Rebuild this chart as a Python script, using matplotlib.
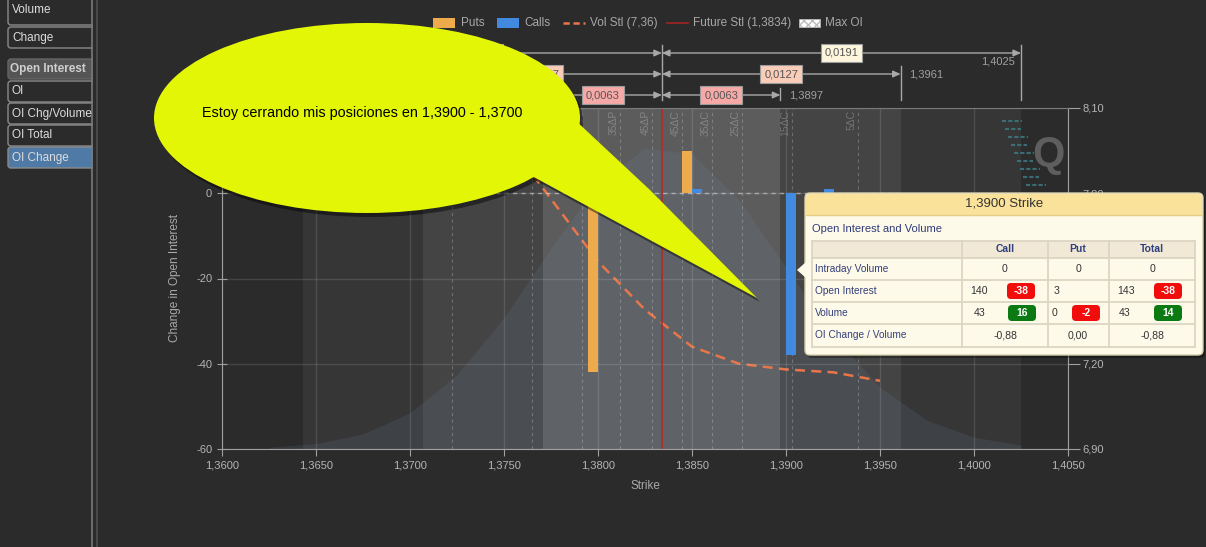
import matplotlib
matplotlib.use("Agg")
import matplotlib.pyplot as plt
import numpy as np
from matplotlib.patches import Rectangle, Ellipse, Polygon, FancyBboxPatch

plt.rcParams["font.family"] = ["Liberation Sans", "DejaVu Sans"]

BG = "#2b2b2b"

# ---- data ----
strike_ticks = [1.3600, 1.3650, 1.3700, 1.3750, 1.3800, 1.3850, 1.3900, 1.3950, 1.4000, 1.4050]
left_ticks = [-60, -40, -20, 0, 20]
right_ticks = [6.90, 7.20, 7.50, 7.80, 8.10]

put_strikes = [1.3800, 1.3850]
put_chg = [-42, 10]
call_strikes = [1.3850, 1.3900, 1.3920]
call_chg = [1, -38, 1]

vol_strikes = [1.3750, 1.3775, 1.3800, 1.3825, 1.3850, 1.3875, 1.3900, 1.3925, 1.3950]
vol_settle = [8.00, 7.78, 7.56, 7.39, 7.26, 7.20, 7.18, 7.17, 7.14]

dist_strikes = [1.3625, 1.3650, 1.3675, 1.3700, 1.3725, 1.3750, 1.3775, 1.3800, 1.3825,
                1.3850, 1.3875, 1.3900, 1.3925, 1.3950, 1.3975, 1.4000, 1.4025]
dist_vals = [6.906, 6.919, 6.953, 7.027, 7.161, 7.362, 7.607, 7.832, 7.959,
             7.938, 7.776, 7.538, 7.300, 7.117, 7.001, 6.941, 6.914]

future_stl = 1.3834
vol_stl = 7.36
sigma_moves = [0.0063, 0.0127, 0.0191]
range_lows = [1.3771, 1.3707, 1.3643]
range_highs = [1.3897, 1.3961, 1.4025]

delta_labels = ["5ΔP", "15ΔP", "25ΔP", "35ΔP", "45ΔP", "45ΔC", "35ΔC", "25ΔC", "15ΔC", "5ΔC"]
delta_strikes = [1.37223, 1.37649, 1.37915, 1.38117, 1.38287, 1.38447, 1.38606, 1.38766, 1.39032, 1.39383]


def fmt(v, d=4):
    return f"{v:.{d}f}".replace(".", ",")


fig = plt.figure(figsize=(12.06, 5.47), dpi=100, facecolor=BG)
ax = fig.add_axes([222 / 1206, 98 / 547, 846 / 1206, 341 / 547])
ax2 = ax.twinx()
ax.set_zorder(2)
ax2.set_zorder(1)
ax.patch.set_visible(False)
ax2.patch.set_facecolor(BG)

# sigma bands + distribution + vol settle on the right axis
band_cols = ["#5c5c5c", "#444444", "#363636"]
for lo, hi, c in list(zip(range_lows, range_highs, band_cols))[::-1]:
    ax2.axvspan(lo, hi, color=c, lw=0, zorder=0)
ax2.fill_between(dist_strikes, 6.9, dist_vals, color="#7a9cc6", alpha=0.12, lw=0, zorder=1)
ax2.plot(vol_strikes, vol_settle, color="#e8764a", lw=1.8, ls=(0, (4, 2.5)), zorder=3)
ax2.set_ylim(6.9, 8.1)
ax2.set_yticks(right_ticks)
ax2.set_yticklabels([fmt(v, 2) for v in right_ticks])
ax2.tick_params(axis="y", colors="#a0a0a0", labelcolor="#b5b5b5", labelsize=8,
                length=8.6, pad=2)
for s in ["left", "top", "bottom"]:
    ax2.spines[s].set_visible(False)
ax2.spines["right"].set_color("#a0a0a0")

# left axis: OI change bars
ax.set_xlim(1.36, 1.405)
ax.set_ylim(-60, 20)
ax.grid(True, color="white", alpha=0.12, lw=1)
for s, lab in zip(delta_strikes, delta_labels):
    ax.axvline(s, color="white", alpha=0.22, lw=0.8, ls=(0, (3, 3)), zorder=1)
    ax.text(s - 0.00008, 0.994, lab, transform=ax.get_xaxis_transform(), rotation=90,
            ha="right", va="top", fontsize=7.5, color="white", alpha=0.25)
ax.hlines(0, 1.3746, 1.3961, colors="#d0d0d0", lw=1, linestyles=(0, (3, 3)), alpha=0.6, zorder=1)
ax.axvline(future_stl, color="#b52a2a", lw=1.2, zorder=2)
ax.bar(np.array(put_strikes) - 0.000266, put_chg, width=0.00053, color="#eeab4c", zorder=3)
ax.bar(np.array(call_strikes) + 0.000266, call_chg, width=0.00053, color="#418ae0", zorder=3)

ax.set_xticks(strike_ticks)
ax.set_xticklabels([fmt(v) for v in strike_ticks])
ax.set_yticks(left_ticks)
ax.set_yticklabels([str(v) for v in left_ticks])
ax.tick_params(axis="x", colors="#a0a0a0", labelcolor="#b5b5b5", labelsize=8, length=5, pad=3)
ax.tick_params(axis="y", colors="#a0a0a0", labelcolor="#b5b5b5", labelsize=8,
               direction="inout", length=7.2, pad=3.5)
ax.spines["left"].set_color("#a0a0a0")
ax.spines["bottom"].set_color("#a0a0a0")
ax.spines["top"].set_color("#7a7a7a")
ax.spines["right"].set_visible(False)
ax.set_ylabel("Change in Open Interest", color="#a9a9a9", fontsize=8.5)
ax.yaxis.set_label_coords(-0.0485, 0.5)
ax.set_xlabel("Strike", color="#a9a9a9", fontsize=8.5)
ax.xaxis.set_label_coords(0.5, -0.091)

# expected move ranges above the plot
trans = ax.get_xaxis_transform()
row_y = [1.0381, 1.0997, 1.1613]
tick_top = [1.0587, 1.1232, 1.1848]
tick_bot = 1.0235
box_cols = ["#f6a9a6", "#f9cdb8", "#fdf6dd"]
line_c = "#a8a8a8"
ax.plot([future_stl, future_stl], [tick_bot, 1.1848], transform=trans, color=line_c,
        lw=1, clip_on=False)
for i, (lo, hi, mv) in enumerate(zip(range_lows, range_highs, sigma_moves)):
    y = row_y[i]
    for a, b in [(lo, future_stl), (future_stl, hi)]:
        ax.annotate("", xy=(b, y), xytext=(a, y), xycoords=trans, textcoords=trans,
                    arrowprops=dict(arrowstyle="<|-|>,head_length=0.45,head_width=0.2",
                                    color=line_c, lw=1, shrinkA=0, shrinkB=0,
                                    mutation_scale=10),
                    annotation_clip=False)
        ax.text((a + b) / 2, y, fmt(mv), transform=trans, ha="center", va="center",
                fontsize=8, color="#555555", clip_on=False, zorder=5,
                bbox=dict(boxstyle="square,pad=0.35", fc=box_cols[i], ec="#9c9c9c", lw=0.8))
    for xe in (lo, hi):
        ax.plot([xe, xe], [tick_bot, tick_top[i]], transform=trans, color=line_c, lw=1,
                clip_on=False)
    if i < 2:
        ax.text(hi + 0.00045, y, fmt(hi), transform=trans, ha="left", va="center",
                fontsize=8, color="#a0a0a0", clip_on=False)
    else:
        ax.text(hi - 0.0003, 1.135, fmt(hi), transform=trans, ha="right", va="center",
                fontsize=8, color="#a0a0a0", clip_on=False)

# ---- overlay: sidebar, legend, bubble, tooltip ----
ov = fig.add_axes([0, 0, 1, 1], zorder=10)
ov.set_xlim(0, 1206)
ov.set_ylim(547, 0)
ov.axis("off")
ov.patch.set_visible(False)

buttons = [("Volume", -5, 25, BG, False), ("Change", 27, 48, BG, False),
           ("Open Interest", 59, 79, "#555555", True), ("OI", 81, 102, BG, False),
           ("OI Chg/Volume", 103, 124, BG, False), ("OI Total", 125, 146, BG, False),
           ("OI Change", 147, 168, "#4f7aa6", False)]
for lab, y0, y1, fc, bold in buttons:
    ov.add_patch(FancyBboxPatch((8, y0), 90, y1 - y0, boxstyle="round,pad=0,rounding_size=3",
                                fc=fc, ec="#8a8a8a" if not bold else "#666666", lw=1))
    if bold:
        ov.text(48, (y0 + y1) / 2, lab, ha="center", va="center", fontsize=8.5,
                color="#cfcfcf", fontweight="bold")
    else:
        ov.text(12, (y0 + y1) / 2, lab, ha="left", va="center", fontsize=8.5, color="#dcdcdc")
ov.add_patch(Rectangle((92.5, 0), 10, 547, fc=BG, ec="none"))
ov.plot([92, 92], [0, 547], color="#7a7a7a", lw=1.2)
ov.plot([97, 97], [0, 547], color="#505050", lw=1.2)

# legend
ly = 23
leg_c = "#a8a8a8"
ov.add_patch(Rectangle((433, 18), 22, 10, fc="#eeab4c", ec="none"))
ov.text(461, ly, "Puts", va="center", fontsize=8.5, color=leg_c)
ov.add_patch(Rectangle((497, 18), 22, 10, fc="#418ae0", ec="none"))
ov.text(524, ly, "Calls", va="center", fontsize=8.5, color=leg_c)
ov.plot([563, 585], [ly, ly], color="#e8764a", lw=1.8, ls=(0, (2.5, 1.5)))
ov.text(590, ly, f"Vol Stl ({fmt(vol_stl, 2)})", va="center", fontsize=8.5, color=leg_c)
ov.plot([667, 688], [ly, ly], color="#a52222", lw=1.2)
ov.text(693, ly, f"Future Stl ({fmt(future_stl)})", va="center", fontsize=8.5, color=leg_c)
ov.add_patch(Rectangle((799, 19), 21, 8, fc="white", ec="#bbbbbb", hatch="xxxx", lw=0.5))
ov.text(825, ly, "Max OI", va="center", fontsize=8.5, color=leg_c)

# watermark
for k in range(9):
    yy = 185 - k * 8
    ov.plot([1040 - k * 3 - 14, 1040 - k * 3 + 6 - (k % 2) * 4], [yy, yy], color="#3b7f86",
            lw=1.5, alpha=0.8, ls=(0, (2, 1)))
ov.text(1048, 155, "Q", ha="center", va="center", fontsize=30, fontweight="bold",
        color="#5e5e5e")

# speech bubble
yel = "#e3f606"
ov.add_patch(Ellipse((370, 122), 426, 190, fc="black", alpha=0.45, ec="none"))
ov.add_patch(Polygon([(533, 179), (760, 302), (653, 194), (578, 124)], closed=True,
                     fc="black", alpha=0.45, ec="none"))
ov.add_patch(Ellipse((367, 118), 426, 190, fc=yel, ec="none"))
ov.add_patch(Polygon([(530, 175), (757, 298), (650, 190), (575, 120)], closed=True,
                     fc=yel, ec="none"))
ov.text(362, 113, "Estoy cerrando mis posiciones en 1,3900 - 1,3700", ha="center",
        va="center", fontsize=10.4, color="black")

# tooltip
ov.add_patch(FancyBboxPatch((807, 196), 398, 162, boxstyle="round,pad=0,rounding_size=5",
                            fc="black", alpha=0.35, ec="none"))
ov.add_patch(FancyBboxPatch((805, 193), 398, 162, boxstyle="round,pad=0,rounding_size=5",
                            fc="#fefaea", ec="#d8cfa8", lw=1))
ov.add_patch(FancyBboxPatch((806, 194), 396, 21, boxstyle="round,pad=0,rounding_size=4",
                            fc="#fbe29a", ec="none"))
ov.add_patch(Rectangle((806, 205), 396, 10, fc="#fbe29a", ec="none"))
ov.plot([806, 1202], [215, 215], color="#e3cf8a", lw=1)
ov.add_patch(Polygon([(806, 262), (797, 270), (806, 278)], closed=True, fc="#fefaea",
                     ec="none"))
ov.text(1004, 204, "1,3900 Strike", ha="center", va="center", fontsize=9.5, color="#333333")
ov.text(812, 229, "Open Interest and Volume", ha="left", va="center", fontsize=8,
        color="#2f3b7a")

cols = [812, 962, 1048, 1109, 1195]
rows = [241, 258, 280, 302, 324, 347]
ov.add_patch(Rectangle((812, 241), 383, 17, fc="#f1e9d6", ec="none"))
for yy in rows:
    ov.plot([812, 1195], [yy, yy], color="#dcd5c3", lw=1.3)
for xx in cols:
    ov.plot([xx, xx], [241, 347], color="#dcd5c3", lw=1.3)
navy = "#2f4080"
for xc, lab in zip([1005, 1078, 1152], ["Call", "Put", "Total"]):
    ov.text(xc, 249.5, lab, ha="center", va="center", fontsize=7.5, color=navy,
            fontweight="bold")
row_labels = ["Intraday Volume", "Open Interest", "Volume", "OI Change / Volume"]
y_r = [(rows[k + 1] + rows[k + 2]) / 2 for k in range(4)]
for lab, yc in zip(row_labels, y_r):
    ov.text(815, yc, lab, ha="left", va="center", fontsize=7.3, color="#34407a")

val_c = "#333333"


def cell(x, y, s):
    ov.text(x, y, s, ha="center", va="center", fontsize=7.6, color=val_c)


def badge(xc, y, s, fc):
    ov.add_patch(FancyBboxPatch((xc - 14, y - 8), 28, 16, boxstyle="round,pad=0,rounding_size=4",
                                fc=fc, ec="none"))
    ov.text(xc, y, s, ha="center", va="center", fontsize=7.5, color="white", fontweight="bold")


cell(1005, y_r[0], "0"); cell(1078, y_r[0], "0"); cell(1152, y_r[0], "0")
cell(979, y_r[1], "140"); badge(1021, y_r[1], "-38", "#f20d0d")
cell(1057, y_r[1], "3"); cell(1126, y_r[1], "143"); badge(1168, y_r[1], "-38", "#f20d0d")
cell(980, y_r[2], "43"); badge(1022, y_r[2], "16", "#0b7a12")
cell(1055, y_r[2], "0"); badge(1086, y_r[2], "-2", "#f20d0d")
cell(1125, y_r[2], "43"); badge(1168, y_r[2], "14", "#0b7a12")
cell(1005, y_r[3], "-0,88"); cell(1078, y_r[3], "0,00"); cell(1152, y_r[3], "-0,88")

fig.savefig("out.png", dpi=100, facecolor=BG)
